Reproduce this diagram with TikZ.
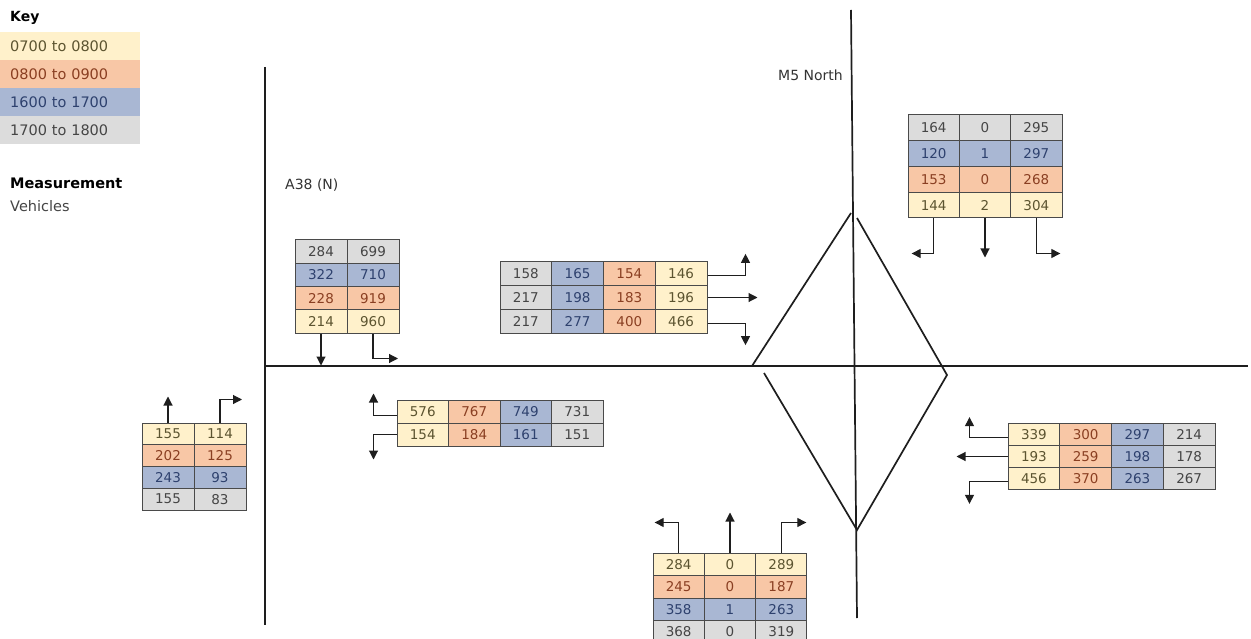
\documentclass[tikz,border=0pt]{standalone}
\usepackage{fontspec}
\setmainfont{DejaVu Sans}
\usetikzlibrary{arrows.meta}
\definecolor{fy}{HTML}{FFF1CB}
\definecolor{fo}{HTML}{F8C7A6}
\definecolor{fb}{HTML}{A9B7D3}
\definecolor{fg}{HTML}{DCDCDC}
\definecolor{ty}{HTML}{5C5430}
\definecolor{to}{HTML}{8A3F22}
\definecolor{tb}{HTML}{2E416E}
\definecolor{tg}{HTML}{454545}
\definecolor{cellline}{HTML}{4A4A4A}
\definecolor{linec}{HTML}{1E1E1E}
\definecolor{labc}{HTML}{333333}
\tikzset{
  cellbase/.style={draw=cellline, line width=1pt, inner sep=0pt, anchor=center,
    font=\fontsize{13.5}{13.5}\selectfont},
  cy/.style={fill=fy, text=ty},
  co/.style={fill=fo, text=to},
  cb/.style={fill=fb, text=tb},
  cg/.style={fill=fg, text=tg},
  arr/.style={draw=linec, line width=1.1pt, -{Triangle[length=9pt,width=9pt]}},
  road/.style={draw=linec, line width=1.7pt},
  lbl/.style={font=\fontsize{14}{14}\selectfont, text=labc, anchor=west, inner sep=0pt},
  keyrow/.style={anchor=north west, minimum height=28pt, text width=120pt, inner xsep=10pt,
    inner ysep=0pt, align=left, font=\fontsize{14.5}{14.5}\selectfont},
}
\begin{document}
\begin{tikzpicture}[x=1pt,y=-1pt]
\useasboundingbox (0,0) rectangle (1251,639);
\clip (0,0) rectangle (1251,639);

% key
\node[anchor=west, inner sep=0pt, font=\bfseries\fontsize{14}{14}\selectfont] (keyt) at (10,18) {Key};
\node[keyrow, cy] (k1) at (0,32) {0700 to 0800};
\node[keyrow, co] (k2) at (0,60) {0800 to 0900};
\node[keyrow, cb] (k3) at (0,88) {1600 to 1700};
\node[keyrow, cg] (k4) at (0,116) {1700 to 1800};
\node[anchor=west, inner sep=0pt, font=\bfseries\fontsize{14.5}{14.5}\selectfont] (meas) at (10,183) {Measurement};
\node[lbl, text=tg, font=\fontsize{14.5}{14.5}\selectfont] (veh) at (10,206) {Vehicles};

% roads
\draw[road] (265,67) -- (265,625);
\draw[road] (265,366) -- (1248,366);
\draw[road] (851,10) -- (857,618);
\draw[road] (851,213) -- (752,366);
\draw[road] (857,218) -- (947,375) -- (857,530) -- (764,373);

\node[lbl] (a38) at (285,185) {A38 (N)};
\node[lbl] (m5) at (778,75) {M5 North};

% table A (A38 N)
\foreach \r/\c/\s/\v in {1/1/cg/284,1/2/cg/699,2/1/cb/322,2/2/cb/710,3/1/co/228,3/2/co/919,4/1/cy/214,4/2/cy/960}
  \node[cellbase,\s,minimum width=52pt,minimum height=23.25pt] (A-\r-\c) at ({295+(\c-0.5)*52},{240+(\r-0.5)*23.25}) {\v};
\draw[arr] (A-4-1.south) -- ++(0,32);
\draw[arr] (A-4-2.south) -- ++(0,25) -- ++(25,0);

% table M (middle)
\foreach \r/\c/\s/\v in {1/1/cg/158,1/2/cb/165,1/3/co/154,1/4/cy/146,
                         2/1/cg/217,2/2/cb/198,2/3/co/183,2/4/cy/196,
                         3/1/cg/217,3/2/cb/277,3/3/co/400,3/4/cy/466}
  \node[cellbase,\s,minimum width=51.75pt,minimum height=23.67pt] (M-\r-\c) at ({500+(\c-0.5)*51.75},{262+(\r-0.5)*23.67}) {\v};
\draw[arr] ([yshift=-2pt]M-1-4.east) -- ++(38,0) -- ++(0,-22);
\draw[arr] (M-2-4.east) -- ++(50,0);
\draw[arr] ([yshift=-2pt]M-3-4.east) -- ++(38,0) -- ++(0,22);

% table T (top right)
\foreach \r/\c/\s/\v in {1/1/cg/164,1/2/cg/0,1/3/cg/295,
                         2/1/cb/120,2/2/cb/1,2/3/cb/297,
                         3/1/co/153,3/2/co/0,3/3/co/268,
                         4/1/cy/144,4/2/cy/2,4/3/cy/304}
  \node[cellbase,\s,minimum width=51.33pt,minimum height=25.75pt] (T-\r-\c) at ({908+(\c-0.5)*51.33},{115+(\r-0.5)*25.75}) {\v};
\draw[arr] (T-4-1.south) -- ++(0,35) -- ++(-22,0);
\draw[arr] (T-4-2.south) -- ++(0,39);
\draw[arr] (T-4-3.south) -- ++(0,35) -- ++(24,0);

% table L (left)
\foreach \r/\c/\s/\v in {1/1/cy/155,1/2/cy/114,2/1/co/202,2/2/co/125,3/1/cb/243,3/2/cb/93,4/1/cg/155,4/2/cg/83}
  \node[cellbase,\s,minimum width=52pt,minimum height=21.75pt] (L-\r-\c) at ({142+(\c-0.5)*52},{423+(\r-0.5)*21.75}) {\v};
\draw[arr] (L-1-1.north) -- ++(0,-26);
\draw[arr] (L-1-2.north) -- ++(0,-23) -- ++(22,0);

% table U (below A38 road)
\foreach \r/\c/\s/\v in {1/1/cy/576,1/2/co/767,1/3/cb/749,1/4/cg/731,
                         2/1/cy/154,2/2/co/184,2/3/cb/161,2/4/cg/151}
  \node[cellbase,\s,minimum width=51.5pt,minimum height=23pt] (U-\r-\c) at ({397+(\c-0.5)*51.5},{400+(\r-0.5)*23}) {\v};
\draw[arr] ([yshift=-4pt]U-1-1.west) -- ++(-23,0) -- ++(0,-22);
\draw[arr] (U-2-1.west) -- ++(-23,0) -- ++(0,25);

% table R (right)
\foreach \r/\c/\s/\v in {1/1/cy/339,1/2/co/300,1/3/cb/297,1/4/cg/214,
                         2/1/cy/193,2/2/co/259,2/3/cb/198,2/4/cg/178,
                         3/1/cy/456,3/2/co/370,3/3/cb/263,3/4/cg/267}
  \node[cellbase,\s,minimum width=51.75pt,minimum height=22.33pt] (R-\r-\c) at ({1008+(\c-0.5)*51.75},{423+(\r-0.5)*22.33}) {\v};
\draw[arr] ([yshift=-3pt]R-1-1.west) -- ++(-38,0) -- ++(0,-20);
\draw[arr] (R-2-1.west) -- ++(-51,0);
\draw[arr] ([yshift=-3pt]R-3-1.west) -- ++(-38,0) -- ++(0,22);

% table B (bottom)
\foreach \r/\c/\s/\v in {1/1/cy/284,1/2/cy/0,1/3/cy/289,
                         2/1/co/245,2/2/co/0,2/3/co/187,
                         3/1/cb/358,3/2/cb/1,3/3/cb/263,
                         4/1/cg/368,4/2/cg/0,4/3/cg/319}
  \node[cellbase,\s,minimum width=51.33pt,minimum height=22.5pt] (B-\r-\c) at ({653+(\c-0.5)*51.33},{553+(\r-0.5)*22.5}) {\v};
\draw[arr] (B-1-1.north) -- ++(0,-30) -- ++(-24,0);
\draw[arr] (B-1-2.north) -- ++(0,-40);
\draw[arr] (B-1-3.north) -- ++(0,-30) -- ++(25,0);
\end{tikzpicture}
\end{document}
